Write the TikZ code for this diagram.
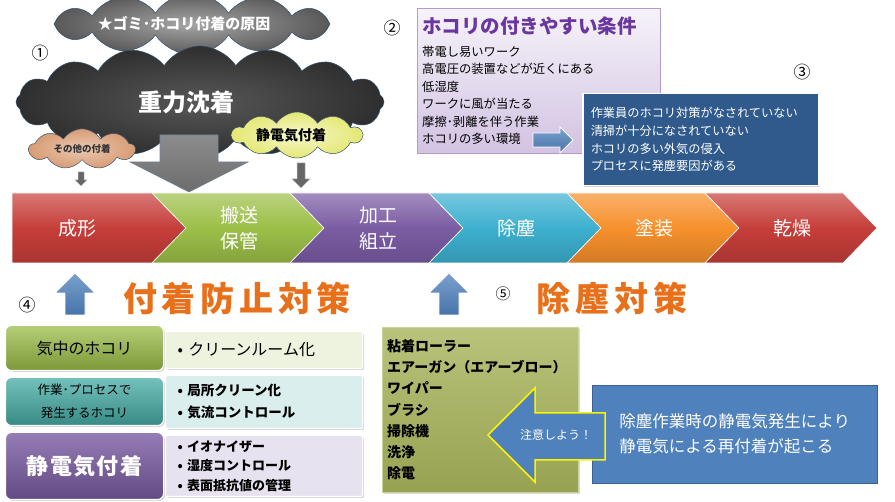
\documentclass[tikz,border=0pt]{standalone}
\usepackage{fontspec}
\setmainfont{Noto Sans CJK JP}
\usetikzlibrary{shapes.symbols,shadows}
\definecolor{CloudClr}{HTML}{3A3A3A}
\definecolor{CloudLine}{HTML}{34506E}
\definecolor{OtherClr}{HTML}{D89C74}
\definecolor{StatClr}{HTML}{E4E872}
\definecolor{PRed}{HTML}{C63E3A}
\definecolor{PGreen}{HTML}{9CBF48}
\definecolor{PPurple}{HTML}{7B5CA4}
\definecolor{PCyan}{HTML}{3DB0CF}
\definecolor{POrange}{HTML}{F7902C}
\definecolor{CondClr}{HTML}{6A36A0}
\definecolor{BoxBlue}{HTML}{2F5A8B}
\definecolor{ArrBlue}{HTML}{4F81BD}
\definecolor{TitleClr}{HTML}{E8701A}
\definecolor{TealClr}{HTML}{45ADA6}
\definecolor{OliveClr}{HTML}{A8B45A}

\begin{document}
\begin{tikzpicture}[x=1pt,y=-1pt,
  cloudnode/.style={cloud,cloud puffs=#1,cloud puff arc=115,draw=CloudLine,line width=.5pt,inner sep=0pt},
  grayarr/.style={top color=gray!90,bottom color=gray!85!black,draw=CloudLine!70,line width=.6pt},
  bluearr/.style={top color=ArrBlue!75!white,bottom color=ArrBlue!90!black,draw=white,line width=.8pt},
  chev/.style={draw=white,line width=.6pt},
  proc/.style={text=white,align=center,font=\fontsize{19}{26}\selectfont},
  num/.style={font=\fontsize{17}{17}\selectfont},
  title/.style={text=TitleClr,font=\bfseries\fontsize{34}{40}\selectfont\addfontfeature{LetterSpace=14}},
  softshadow/.style={drop shadow={opacity=.3,shadow xshift=1.5pt,shadow yshift=-1.5pt}},
  leftbox/.style={anchor=north west,minimum width=158,rounded corners=6pt,draw=white,line width=1pt,align=center,softshadow},
  rightbox/.style={anchor=north west,minimum width=197,text width=173,inner xsep=12pt,align=left,draw=white,line width=1pt,rounded corners=2pt,softshadow}]
\useasboundingbox (0,0) rectangle (895,502);

\node (cause) [cloudnode=12,aspect=7,minimum width=276,minimum height=36,inner color=gray!70,outer color=gray!70!black,
  text=white,font=\bfseries\fontsize{15}{15}\selectfont] at (192,24) {\hspace*{-16pt}★ゴミ･ホコリ付着の原因};
\node (n1) [num] at (40,53) {①};
\node (grav) [cloudnode=16,aspect=3.3,minimum width=368,minimum height=112,inner color=CloudClr!85!white,outer color=CloudClr!80!black,
  text=white,font=\bfseries\fontsize{24}{24}\selectfont] at (200,102) {\hspace*{-28pt}重力沈着};
\shade[grayarr] (160,135) -- (218,135) -- (218,162) -- (248,162) -- (189,192) -- (130,162) -- (160,162) -- cycle;
\node (other) [cloudnode=9,aspect=3,minimum width=106,minimum height=36,inner color=OtherClr!55!white,outer color=OtherClr,
  text=black!80,font=\bfseries\fontsize{9.5}{10}\selectfont] at (82,149) {その他の付着};
\node (stat) [cloudnode=10,aspect=2.8,minimum width=130,minimum height=46,inner color=StatClr!35!white,outer color=StatClr,
  font=\bfseries\fontsize{14}{14}\selectfont] at (297,135) {\hspace*{-12pt}静電気付着};
\filldraw[fill=black!60,draw=gray!50,line width=.5pt]
  (78,172) -- (84,172) -- (84,180) -- (87,180) -- (81,186) -- (75,180) -- (78,180) -- cycle;
\filldraw[fill=black!60,draw=gray!50,line width=.5pt]
  (297,163) -- (305,163) -- (305,179) -- (310,179) -- (301,188) -- (292,179) -- (297,179) -- cycle;

\node (n2) [num] at (392,28) {②};
\node (cond) [anchor=north west,minimum width=243,minimum height=145,text width=233,inner xsep=5pt,align=left,
  top color=CondClr!6!white,bottom color=CondClr!30!white,draw=CondClr!50!white,
  font=\fontsize{12.3}{17.5}\selectfont] at (417,8)
  {{\color{CondClr}\bfseries\fontsize{19.5}{22}\selectfont ホコリの付きやすい条件}\\[5pt]
   帯電し易いワーク\\高電圧の装置などが近くにある\\低湿度\\ワークに風が当たる\\摩擦･剥離を伴う作業\\ホコリの多い環境};
\node (n3) [num] at (802,72) {③};
\node (env) [anchor=north west,minimum width=236,minimum height=92,text width=220,inner xsep=8pt,align=left,
  fill=BoxBlue,draw=white,line width=1.5pt,softshadow,text=white,font=\fontsize{12.2}{17.7}\selectfont] at (582,93)
  {作業員のホコリ対策がなされていない\\清掃が十分になされていない\\ホコリの多い外気の侵入\\プロセスに発塵要因がある};
\shade[bluearr] (533,133) -- (560,133) -- (560,127) -- (573,140) -- (560,153) -- (560,147) -- (533,147) -- cycle;

\foreach \xa/\xb/\nt/\cl/\tx/\txt [count=\i] in
  {12/152/0/PRed/77/成形, 152/290/34/PGreen/239/{搬送\\保管}, 290/429/34/PPurple/378/{加工\\組立},
   429/567/34/PCyan/516/除塵, 567/705/34/POrange/654/塗装, 705/843/34/PRed/792/乾燥}
{
  \shade[chev,top color=\cl!70!white,bottom color=\cl!85!black,middle color=\cl]
    (\xa,193) -- (\xb,193) -- (\xb+34,228) -- (\xb,263) -- (\xa,263) -- (\xa+\nt,228) -- cycle;
  \node (p\i) [proc] at (\tx,228) {\txt};
}

\node (n4) [num] at (27,305) {④};
\shade[bluearr] (65,315) -- (65,293) -- (55,293) -- (75,273) -- (95,293) -- (85,293) -- (85,315) -- cycle;
\node (tA) [title] at (237,298) {付着防止対策};

\node (aL) [leftbox,minimum height=45,top color=PGreen!75!white,bottom color=PGreen!80!black,
  font=\fontsize{16}{16}\selectfont] at (5,325) {気中のホコリ};
\node (aR) [rightbox,minimum height=37,fill=PGreen!18!white,font=\fontsize{16}{16}\selectfont] at (165,331)
  {• クリーンルーム化};
\node (bL) [leftbox,minimum height=48,top color=TealClr!75!white,bottom color=TealClr!80!black,
  font=\fontsize{12.5}{23}\selectfont] at (5,377) {作業･プロセスで\\発生するホコリ};
\node (bR) [rightbox,minimum height=53,fill=TealClr!20!white,font=\bfseries\fontsize{13.5}{22}\selectfont] at (165,375)
  {• 局所クリーン化\\• 気流コントロール};
\node (cL) [leftbox,minimum height=67,top color=PPurple!80!white,bottom color=PPurple!80!black,text=white,
  font=\bfseries\fontsize{22}{22}\selectfont\addfontfeature{LetterSpace=6}] at (5,432) {静電気付着};
\node (cR) [rightbox,minimum height=61,fill=PPurple!18!white,font=\bfseries\fontsize{13}{19.5}\selectfont] at (165,435)
  {• イオナイザー\\• 湿度コントロール\\• 表面抵抗値の管理};

\shade[bluearr] (439,315) -- (439,293) -- (429,293) -- (449,273) -- (469,293) -- (459,293) -- (459,315) -- cycle;
\node (n5) [num,font=\fontsize{15}{15}\selectfont] at (503,294) {⑤};
\node (tB) [title] at (612,298) {除塵対策};

\node (rm) [anchor=north west,minimum width=196,minimum height=165,text width=186,inner xsep=5pt,align=left,
  top color=OliveClr!80!white,bottom color=OliveClr!90!black,draw=OliveClr!60!white,softshadow,
  font=\bfseries\fontsize{14}{21.2}\selectfont] at (382,327)
  {粘着ローラー\\エアーガン（エアーブロー）\\ワイパー\\ブラシ\\掃除機\\洗浄\\除電};
\node (warn) [anchor=north west,minimum width=285,minimum height=98,align=left,fill=ArrBlue,draw=ArrBlue!75!black,
  text=white,font=\fontsize{16.5}{25}\selectfont] at (592,385)
  {除塵作業時の静電気発生により\\静電気による再付着が起こる};
\filldraw[fill=ArrBlue,draw=yellow,line width=1.5pt]
  (605,413) -- (535,413) -- (535,388) -- (488,435) -- (535,482) -- (535,460) -- (605,460) -- cycle;
\node (care) [text=white,font=\fontsize{12}{14}\selectfont] at (556,435) {注意しよう！};
\end{tikzpicture}
\end{document}
